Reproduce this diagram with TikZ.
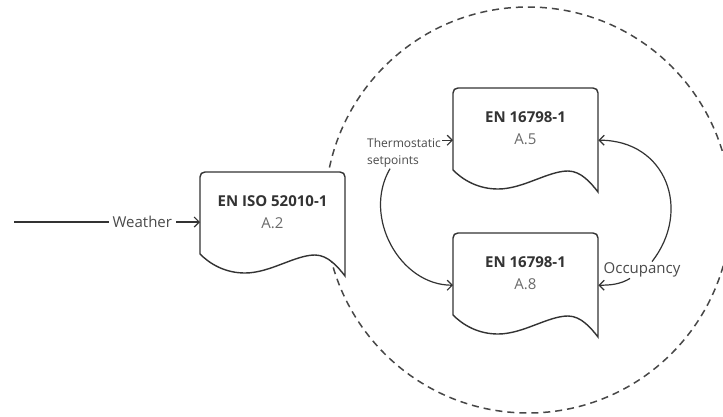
\documentclass[tikz,border=0pt]{standalone}
\usepackage{fontspec}
\setmainfont{Open Sans}
\usetikzlibrary{arrows.meta,calc}
\definecolor{ink}{HTML}{333333}
\definecolor{sub}{HTML}{6A6A6A}
\definecolor{lab}{HTML}{4A4A4A}
\tikzset{
  docbox/.style={minimum width=145pt,minimum height=104pt,inner sep=0pt,anchor=north west},
  docline/.style={draw=ink,line width=1.4pt,fill=white},
  doctitle/.style={font=\bfseries\fontsize{15}{18}\selectfont,text=ink},
  docsub/.style={font=\fontsize{15}{18}\selectfont,text=sub},
  conn/.style={draw=ink,line width=1.2pt,-{Straight Barb[length=5pt,width=10pt,line width=1.2pt]}},
  plainconn/.style={draw=ink,line width=1.2pt},
  edgelabel/.style={fill=white,inner sep=1pt,font=\fontsize{15}{18}\selectfont,text=lab},
  smalllabel/.style={fill=white,inner sep=1pt,font=\fontsize{12}{17}\selectfont,text=lab,align=left},
  scopecircle/.style={draw=ink!90,line width=1.5pt,dash pattern=on 7pt off 5pt}
}
\newcommand\docshape[4]{%
  \node[docbox] (#1) at #2 {};
  \begin{scope}[shift={(#1.north west)}]
    \path[docline] (0,82) -- (0,5) .. controls (0,2) and (2,0) .. (5,0) -- (140,0)
      .. controls (143,0) and (145,2) .. (145,5) -- (145,104)
      .. controls (138,95) and (128,83) .. (115,83)
      .. controls (95,83) and (70,101) .. (45,101)
      .. controls (25,101) and (10,92) .. (0,82) -- cycle;
    \node[doctitle] (#1t) at (72.5,29) {#3};
    \node[docsub] (#1s) at (72.5,51) {#4};
  \end{scope}}
\begin{document}
\begin{tikzpicture}[x=1pt,y=-1pt]
\useasboundingbox (0,0) rectangle (723,416);
\clip (0,0) rectangle (723,416);
\fill[white] (0,0) rectangle (723,416);
\draw[scopecircle] (528,210) circle[radius=203pt];
\docshape{a2}{(200,172)}{EN ISO 52010-1}{A.2}
\docshape{a5}{(453,88)}{EN 16798-1}{A.5}
\docshape{a8}{(453,233)}{EN 16798-1}{A.8}
\coordinate (wstart) at (14,222);
\draw[conn] (wstart) -- node[edgelabel,pos=0.69,inner sep=4pt] {Weather} (wstart -| a2.west);
\node[smalllabel] (ts) at (404,153) {Thermostatic\\setpoints};
\draw[conn] (ts.east |- a5.west) -- (a5.west);
\draw[conn] ($(ts.south)+(-14,0)$) .. controls +(-28,48) and +(-53,0) .. (a8.west);
\node[edgelabel] (oc) at (642,270) {Occupancy};
\draw[conn] ($(oc.north)+(10,0)$) .. controls +(40,-51) and +(68,0) .. (a5.east);
\draw[conn] ($(oc.south)+(-12,0)$) .. controls +(-10,6) and +(12,0) .. (a8.east);
\end{tikzpicture}
\end{document}
